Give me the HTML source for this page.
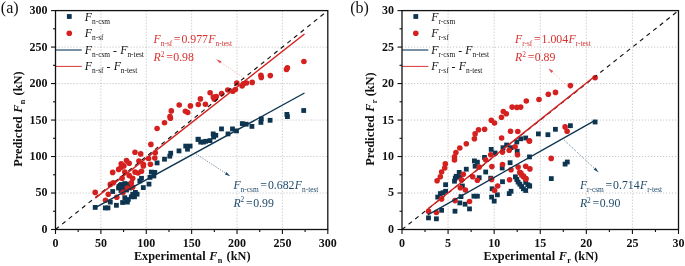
<!DOCTYPE html>
<html><head><meta charset="utf-8"><title>chart</title>
<style>
html,body{margin:0;padding:0;background:#fff;}
body{width:685px;height:266px;overflow:hidden;font-family:"Liberation Serif",serif;}
svg{display:block;will-change:transform;font-family:"Liberation Serif",serif;}
</style></head><body>
<svg width="685" height="266" viewBox="0 0 685 266">
<rect width="685" height="266" fill="#fff"/>
<g stroke="#a0a0a0" stroke-width="0.6" stroke-dasharray="1.2 1.8" fill="none"><line x1="100.88" y1="10.6" x2="100.88" y2="229.5"/><line x1="146.27" y1="10.6" x2="146.27" y2="229.5"/><line x1="191.65" y1="10.6" x2="191.65" y2="229.5"/><line x1="237.03" y1="10.6" x2="237.03" y2="229.5"/><line x1="282.42" y1="10.6" x2="282.42" y2="229.5"/><line x1="55.5" y1="193.02" x2="327.8" y2="193.02"/><line x1="55.5" y1="156.53" x2="327.8" y2="156.53"/><line x1="55.5" y1="120.05" x2="327.8" y2="120.05"/><line x1="55.5" y1="83.57" x2="327.8" y2="83.57"/><line x1="55.5" y1="47.08" x2="327.8" y2="47.08"/></g><g stroke="#111" stroke-width="1.1"><line x1="55.50" y1="229.5" x2="55.50" y2="234.0"/><line x1="78.19" y1="229.5" x2="78.19" y2="232.0"/><line x1="100.88" y1="229.5" x2="100.88" y2="234.0"/><line x1="123.58" y1="229.5" x2="123.58" y2="232.0"/><line x1="146.27" y1="229.5" x2="146.27" y2="234.0"/><line x1="168.96" y1="229.5" x2="168.96" y2="232.0"/><line x1="191.65" y1="229.5" x2="191.65" y2="234.0"/><line x1="214.34" y1="229.5" x2="214.34" y2="232.0"/><line x1="237.03" y1="229.5" x2="237.03" y2="234.0"/><line x1="259.73" y1="229.5" x2="259.73" y2="232.0"/><line x1="282.42" y1="229.5" x2="282.42" y2="234.0"/><line x1="305.11" y1="229.5" x2="305.11" y2="232.0"/><line x1="327.80" y1="229.5" x2="327.80" y2="234.0"/><line x1="51.0" y1="229.50" x2="55.5" y2="229.50"/><line x1="53.0" y1="211.26" x2="55.5" y2="211.26"/><line x1="51.0" y1="193.02" x2="55.5" y2="193.02"/><line x1="53.0" y1="174.78" x2="55.5" y2="174.78"/><line x1="51.0" y1="156.53" x2="55.5" y2="156.53"/><line x1="53.0" y1="138.29" x2="55.5" y2="138.29"/><line x1="51.0" y1="120.05" x2="55.5" y2="120.05"/><line x1="53.0" y1="101.81" x2="55.5" y2="101.81"/><line x1="51.0" y1="83.57" x2="55.5" y2="83.57"/><line x1="53.0" y1="65.32" x2="55.5" y2="65.32"/><line x1="51.0" y1="47.08" x2="55.5" y2="47.08"/><line x1="53.0" y1="28.84" x2="55.5" y2="28.84"/><line x1="51.0" y1="10.60" x2="55.5" y2="10.60"/></g><g font-weight="bold" font-size="12" fill="#111"><text x="55.5" y="246.5" text-anchor="middle">0</text><text x="100.9" y="246.5" text-anchor="middle">50</text><text x="146.3" y="246.5" text-anchor="middle">100</text><text x="191.7" y="246.5" text-anchor="middle">150</text><text x="237.0" y="246.5" text-anchor="middle">200</text><text x="282.4" y="246.5" text-anchor="middle">250</text><text x="327.8" y="246.5" text-anchor="middle">300</text><text x="47.5" y="232.9" text-anchor="end">0</text><text x="47.5" y="196.4" text-anchor="end">50</text><text x="47.5" y="159.9" text-anchor="end">100</text><text x="47.5" y="123.5" text-anchor="end">150</text><text x="47.5" y="87.0" text-anchor="end">200</text><text x="47.5" y="50.5" text-anchor="end">250</text><text x="47.5" y="14.0" text-anchor="end">300</text></g><text x="192.2" y="260.2" text-anchor="middle" font-weight="bold" font-size="12.3" fill="#111">Experimental <tspan font-style="italic" dx="0.6">F</tspan><tspan font-size="8.2" dy="2.8" dx="0.3">n</tspan><tspan dy="-2.8" dx="1.2"> (kN)</tspan></text><text transform="translate(21.9,119.1) rotate(-90)" text-anchor="middle" font-weight="bold" font-size="12.3" fill="#111">Predicted <tspan font-style="italic" dx="0.6">F</tspan><tspan font-size="8.2" dy="2.8" dx="0.3">n</tspan><tspan dy="-2.8" dx="1.2"> (kN)</tspan></text><text x="0.8" y="12.6" font-size="16" fill="#111">(a)</text><g fill="#0e3550"><rect x="116.6" y="184.1" width="4.8" height="4.8"/><rect x="119.1" y="182.1" width="4.8" height="4.8"/><rect x="120.6" y="186.1" width="4.8" height="4.8"/><rect x="123.6" y="183.6" width="4.8" height="4.8"/><rect x="125.6" y="181.8" width="4.8" height="4.8"/><rect x="124.1" y="187.6" width="4.8" height="4.8"/><rect x="118.6" y="188.1" width="4.8" height="4.8"/><rect x="127.1" y="185.6" width="4.8" height="4.8"/><rect x="92.8" y="205.0" width="4.8" height="4.8"/><rect x="102.9" y="205.5" width="4.8" height="4.8"/><rect x="105.6" y="205.5" width="4.8" height="4.8"/><rect x="107.9" y="199.7" width="4.8" height="4.8"/><rect x="110.3" y="189.1" width="4.8" height="4.8"/><rect x="114.0" y="202.9" width="4.8" height="4.8"/><rect x="116.2" y="185.6" width="4.8" height="4.8"/><rect x="117.9" y="182.9" width="4.8" height="4.8"/><rect x="120.2" y="200.1" width="4.8" height="4.8"/><rect x="122.4" y="181.2" width="4.8" height="4.8"/><rect x="122.4" y="195.3" width="4.8" height="4.8"/><rect x="125.0" y="199.7" width="4.8" height="4.8"/><rect x="125.9" y="197.1" width="4.8" height="4.8"/><rect x="128.9" y="194.4" width="4.8" height="4.8"/><rect x="130.3" y="191.8" width="4.8" height="4.8"/><rect x="133.0" y="190.0" width="4.8" height="4.8"/><rect x="134.7" y="191.8" width="4.8" height="4.8"/><rect x="132.1" y="194.4" width="4.8" height="4.8"/><rect x="137.4" y="178.5" width="4.8" height="4.8"/><rect x="139.1" y="175.9" width="4.8" height="4.8"/><rect x="140.9" y="185.2" width="4.8" height="4.8"/><rect x="146.6" y="181.7" width="4.8" height="4.8"/><rect x="147.6" y="175.0" width="4.8" height="4.8"/><rect x="148.9" y="169.7" width="4.8" height="4.8"/><rect x="152.4" y="170.0" width="4.8" height="4.8"/><rect x="151.5" y="173.6" width="4.8" height="4.8"/><rect x="154.7" y="160.5" width="4.8" height="4.8"/><rect x="162.1" y="156.8" width="4.8" height="4.8"/><rect x="167.4" y="153.8" width="4.8" height="4.8"/><rect x="168.3" y="150.8" width="4.8" height="4.8"/><rect x="176.6" y="148.5" width="4.8" height="4.8"/><rect x="183.3" y="143.7" width="4.8" height="4.8"/><rect x="187.7" y="143.7" width="4.8" height="4.8"/><rect x="185.1" y="146.8" width="4.8" height="4.8"/><rect x="195.7" y="137.0" width="4.8" height="4.8"/><rect x="198.3" y="139.7" width="4.8" height="4.8"/><rect x="201.0" y="139.7" width="4.8" height="4.8"/><rect x="301.3" y="108.1" width="4.8" height="4.8"/><rect x="284.5" y="112.0" width="4.8" height="4.8"/><rect x="285.0" y="114.2" width="4.8" height="4.8"/><rect x="267.7" y="117.9" width="4.8" height="4.8"/><rect x="258.9" y="116.5" width="4.8" height="4.8"/><rect x="258.5" y="120.0" width="4.8" height="4.8"/><rect x="249.5" y="124.0" width="4.8" height="4.8"/><rect x="243.8" y="121.8" width="4.8" height="4.8"/><rect x="239.9" y="121.2" width="4.8" height="4.8"/><rect x="230.1" y="126.5" width="4.8" height="4.8"/><rect x="234.1" y="128.5" width="4.8" height="4.8"/><rect x="219.1" y="126.5" width="4.8" height="4.8"/><rect x="225.6" y="131.5" width="4.8" height="4.8"/><rect x="210.8" y="131.5" width="4.8" height="4.8"/><rect x="213.4" y="132.9" width="4.8" height="4.8"/><rect x="211.2" y="134.6" width="4.8" height="4.8"/><rect x="195.8" y="136.8" width="4.8" height="4.8"/><rect x="207.6" y="138.2" width="4.8" height="4.8"/><rect x="203.2" y="138.9" width="4.8" height="4.8"/></g><g fill="#d4201f"><circle cx="121.0" cy="167.5" r="2.8"/><circle cx="95.2" cy="192.4" r="2.8"/><circle cx="105.5" cy="200.3" r="2.8"/><circle cx="108.3" cy="194.2" r="2.8"/><circle cx="110.3" cy="184.4" r="2.8"/><circle cx="113.3" cy="182.7" r="2.8"/><circle cx="112.7" cy="172.4" r="2.8"/><circle cx="116.8" cy="197.2" r="2.8"/><circle cx="118.6" cy="169.4" r="2.8"/><circle cx="122.1" cy="178.3" r="2.8"/><circle cx="123.0" cy="192.4" r="2.8"/><circle cx="123.9" cy="165.9" r="2.8"/><circle cx="124.8" cy="172.1" r="2.8"/><circle cx="127.4" cy="188.0" r="2.8"/><circle cx="129.2" cy="175.6" r="2.8"/><circle cx="131.3" cy="182.7" r="2.8"/><circle cx="132.7" cy="178.3" r="2.8"/><circle cx="135.0" cy="172.1" r="2.8"/><circle cx="132.7" cy="187.1" r="2.8"/><circle cx="138.0" cy="173.0" r="2.8"/><circle cx="141.5" cy="171.2" r="2.8"/><circle cx="143.3" cy="165.9" r="2.8"/><circle cx="157.1" cy="128.5" r="2.8"/><circle cx="164.5" cy="122.7" r="2.8"/><circle cx="150.9" cy="144.4" r="2.8"/><circle cx="135.0" cy="152.3" r="2.8"/><circle cx="140.7" cy="153.9" r="2.8"/><circle cx="155.3" cy="152.7" r="2.8"/><circle cx="154.8" cy="158.0" r="2.8"/><circle cx="148.6" cy="158.5" r="2.8"/><circle cx="138.9" cy="161.0" r="2.8"/><circle cx="126.5" cy="160.6" r="2.8"/><circle cx="129.2" cy="163.3" r="2.8"/><circle cx="121.2" cy="163.8" r="2.8"/><circle cx="143.3" cy="164.2" r="2.8"/><circle cx="150.4" cy="164.2" r="2.8"/><circle cx="170.0" cy="116.5" r="2.8"/><circle cx="170.4" cy="118.3" r="2.8"/><circle cx="171.3" cy="110.9" r="2.8"/><circle cx="179.2" cy="105.0" r="2.8"/><circle cx="185.4" cy="111.2" r="2.8"/><circle cx="187.7" cy="112.5" r="2.8"/><circle cx="190.4" cy="105.9" r="2.8"/><circle cx="198.3" cy="104.5" r="2.8"/><circle cx="200.4" cy="98.9" r="2.8"/><circle cx="205.4" cy="104.2" r="2.8"/><circle cx="210.1" cy="92.7" r="2.8"/><circle cx="213.3" cy="97.1" r="2.8"/><circle cx="214.2" cy="98.9" r="2.8"/><circle cx="216.3" cy="96.6" r="2.8"/><circle cx="221.6" cy="93.6" r="2.8"/><circle cx="227.8" cy="90.0" r="2.8"/><circle cx="232.8" cy="91.3" r="2.8"/><circle cx="235.4" cy="89.5" r="2.8"/><circle cx="236.8" cy="83.0" r="2.8"/><circle cx="242.1" cy="86.0" r="2.8"/><circle cx="243.4" cy="83.8" r="2.8"/><circle cx="246.5" cy="83.0" r="2.8"/><circle cx="252.2" cy="82.4" r="2.8"/><circle cx="303.9" cy="61.5" r="2.8"/><circle cx="287.4" cy="67.7" r="2.8"/><circle cx="286.5" cy="69.5" r="2.8"/><circle cx="270.3" cy="75.6" r="2.8"/><circle cx="260.9" cy="75.3" r="2.8"/><circle cx="261.3" cy="77.4" r="2.8"/></g><line x1="55.5" y1="229.5" x2="327.8" y2="10.6" stroke="#111" stroke-width="1.15" stroke-dasharray="4.3 4.2"/><line x1="95.4" y1="207.6" x2="304.5" y2="93.0" stroke="#0e3550" stroke-width="1.4"/><line x1="95.4" y1="198.1" x2="304.5" y2="34.0" stroke="#d4201f" stroke-width="1.45"/><rect x="66.9" y="14.1" width="4.8" height="4.8" fill="#0e3550"/><circle cx="69.3" cy="33.2" r="2.8" fill="#d4201f"/><line x1="55.5" y1="50" x2="81.8" y2="50" stroke="#3f6480" stroke-width="1.4"/><line x1="55.5" y1="66.4" x2="81.8" y2="66.4" stroke="#d4201f" stroke-width="0.9"/><text x="84.8" y="20.5" font-size="11.8" fill="#111"><tspan font-style="italic">F</tspan><tspan font-size="7.4" dy="3">n-csm</tspan></text><text x="84.8" y="37.2" font-size="11.8" fill="#111"><tspan font-style="italic">F</tspan><tspan font-size="7.4" dy="3">n-sf</tspan></text><text x="84.8" y="54" font-size="11.8" fill="#111"><tspan font-style="italic">F</tspan><tspan font-size="7.4" dy="3">n-csm</tspan><tspan dy="-3"> - </tspan><tspan font-style="italic" dx="0.3">F</tspan><tspan font-size="7.4" dy="3">n-test</tspan></text><text x="84.8" y="70.3" font-size="11.8" fill="#111"><tspan font-style="italic">F</tspan><tspan font-size="7.4" dy="3">n-sf</tspan><tspan dy="-3"> - </tspan><tspan font-style="italic" dx="0.3">F</tspan><tspan font-size="7.4" dy="3">n-test</tspan></text><text x="153.5" y="43.3" font-size="11.8" fill="#d83030"><tspan font-style="italic">F</tspan><tspan font-size="7.4" dy="3">n-sf</tspan><tspan dy="-3" dx="1.6">=</tspan><tspan dx="1.0">0.977</tspan><tspan font-style="italic" dx="0.3">F</tspan><tspan font-size="7.4" dy="3">n-test</tspan></text><text x="153.5" y="61" font-size="11.8" fill="#d83030"><tspan font-style="italic">R</tspan><tspan font-size="7.4" dy="-4.4">2</tspan><tspan dy="4.4" dx="1.8">=</tspan><tspan dx="0.4">0.98</tspan></text><text x="233.4" y="188.8" font-size="11.8" fill="#1f4a6a"><tspan font-style="italic">F</tspan><tspan font-size="7.4" dy="3">n-csm</tspan><tspan dy="-3" dx="1.6">=</tspan><tspan dx="1.0">0.682</tspan><tspan font-style="italic" dx="0.3">F</tspan><tspan font-size="7.4" dy="3">n-test</tspan></text><text x="233.4" y="206.8" font-size="11.8" fill="#1f4a6a"><tspan font-style="italic">R</tspan><tspan font-size="7.4" dy="-4.4">2</tspan><tspan dy="4.4" dx="1.8">=</tspan><tspan dx="0.4">0.99</tspan></text><line x1="243.6" y1="77.8" x2="220.8" y2="62.4" stroke="#e05050" stroke-width="0.6" stroke-dasharray="0.9 1.3" opacity="0.75"/><polygon points="216.2,59.3 221.5,61.2 220.0,63.5" fill="#e05050"/><line x1="196.2" y1="154.1" x2="225.7" y2="173.2" stroke="#1f4a6a" stroke-width="0.8" stroke-dasharray="0.9 1.3" opacity="0.95"/><polygon points="230.3,176.2 224.9,174.4 226.4,172.0" fill="#1f4a6a"/><rect x="55.5" y="10.6" width="272.3" height="218.9" fill="none" stroke="#111" stroke-width="1.3"/><g stroke="#a0a0a0" stroke-width="0.6" stroke-dasharray="1.2 1.8" fill="none"><line x1="448.08" y1="10.6" x2="448.08" y2="229.5"/><line x1="494.17" y1="10.6" x2="494.17" y2="229.5"/><line x1="540.25" y1="10.6" x2="540.25" y2="229.5"/><line x1="586.33" y1="10.6" x2="586.33" y2="229.5"/><line x1="632.42" y1="10.6" x2="632.42" y2="229.5"/><line x1="402.0" y1="193.02" x2="678.5" y2="193.02"/><line x1="402.0" y1="156.53" x2="678.5" y2="156.53"/><line x1="402.0" y1="120.05" x2="678.5" y2="120.05"/><line x1="402.0" y1="83.57" x2="678.5" y2="83.57"/><line x1="402.0" y1="47.08" x2="678.5" y2="47.08"/></g><g stroke="#111" stroke-width="1.1"><line x1="402.00" y1="229.5" x2="402.00" y2="234.0"/><line x1="425.04" y1="229.5" x2="425.04" y2="232.0"/><line x1="448.08" y1="229.5" x2="448.08" y2="234.0"/><line x1="471.12" y1="229.5" x2="471.12" y2="232.0"/><line x1="494.17" y1="229.5" x2="494.17" y2="234.0"/><line x1="517.21" y1="229.5" x2="517.21" y2="232.0"/><line x1="540.25" y1="229.5" x2="540.25" y2="234.0"/><line x1="563.29" y1="229.5" x2="563.29" y2="232.0"/><line x1="586.33" y1="229.5" x2="586.33" y2="234.0"/><line x1="609.38" y1="229.5" x2="609.38" y2="232.0"/><line x1="632.42" y1="229.5" x2="632.42" y2="234.0"/><line x1="655.46" y1="229.5" x2="655.46" y2="232.0"/><line x1="678.50" y1="229.5" x2="678.50" y2="234.0"/><line x1="397.5" y1="229.50" x2="402.0" y2="229.50"/><line x1="399.5" y1="211.26" x2="402.0" y2="211.26"/><line x1="397.5" y1="193.02" x2="402.0" y2="193.02"/><line x1="399.5" y1="174.78" x2="402.0" y2="174.78"/><line x1="397.5" y1="156.53" x2="402.0" y2="156.53"/><line x1="399.5" y1="138.29" x2="402.0" y2="138.29"/><line x1="397.5" y1="120.05" x2="402.0" y2="120.05"/><line x1="399.5" y1="101.81" x2="402.0" y2="101.81"/><line x1="397.5" y1="83.57" x2="402.0" y2="83.57"/><line x1="399.5" y1="65.32" x2="402.0" y2="65.32"/><line x1="397.5" y1="47.08" x2="402.0" y2="47.08"/><line x1="399.5" y1="28.84" x2="402.0" y2="28.84"/><line x1="397.5" y1="10.60" x2="402.0" y2="10.60"/></g><g font-weight="bold" font-size="12" fill="#111"><text x="402.0" y="246.5" text-anchor="middle">0</text><text x="448.1" y="246.5" text-anchor="middle">5</text><text x="494.2" y="246.5" text-anchor="middle">10</text><text x="540.2" y="246.5" text-anchor="middle">15</text><text x="586.3" y="246.5" text-anchor="middle">20</text><text x="632.4" y="246.5" text-anchor="middle">25</text><text x="678.5" y="246.5" text-anchor="middle">30</text><text x="394.0" y="232.9" text-anchor="end">0</text><text x="394.0" y="196.4" text-anchor="end">5</text><text x="394.0" y="159.9" text-anchor="end">10</text><text x="394.0" y="123.5" text-anchor="end">15</text><text x="394.0" y="87.0" text-anchor="end">20</text><text x="394.0" y="50.5" text-anchor="end">25</text><text x="394.0" y="14.0" text-anchor="end">30</text></g><text x="540.8" y="260.2" text-anchor="middle" font-weight="bold" font-size="12.3" fill="#111">Experimental <tspan font-style="italic" dx="0.6">F</tspan><tspan font-size="8.2" dy="2.8" dx="0.3">r</tspan><tspan dy="-2.8" dx="0.2"> (kN)</tspan></text><text transform="translate(374.1,119.1) rotate(-90)" text-anchor="middle" font-weight="bold" font-size="12.3" fill="#111">Predicted <tspan font-style="italic" dx="0.6">F</tspan><tspan font-size="8.2" dy="2.8" dx="0.3">r</tspan><tspan dy="-2.8" dx="0.2"> (kN)</tspan></text><text x="350.2" y="12.6" font-size="16" fill="#111">(b)</text><g fill="#0e3550"><rect x="426.1" y="215.5" width="4.8" height="4.8"/><rect x="434.0" y="216.4" width="4.8" height="4.8"/><rect x="439.2" y="207.9" width="4.8" height="4.8"/><rect x="435.3" y="194.7" width="4.8" height="4.8"/><rect x="437.9" y="191.2" width="4.8" height="4.8"/><rect x="440.6" y="190.3" width="4.8" height="4.8"/><rect x="443.2" y="188.9" width="4.8" height="4.8"/><rect x="443.2" y="182.3" width="4.8" height="4.8"/><rect x="452.6" y="208.8" width="4.8" height="4.8"/><rect x="457.4" y="200.5" width="4.8" height="4.8"/><rect x="458.6" y="194.2" width="4.8" height="4.8"/><rect x="462.7" y="201.8" width="4.8" height="4.8"/><rect x="467.1" y="206.5" width="4.8" height="4.8"/><rect x="452.1" y="178.8" width="4.8" height="4.8"/><rect x="452.9" y="175.8" width="4.8" height="4.8"/><rect x="457.4" y="174.7" width="4.8" height="4.8"/><rect x="460.0" y="183.6" width="4.8" height="4.8"/><rect x="471.5" y="193.8" width="4.8" height="4.8"/><rect x="475.0" y="193.8" width="4.8" height="4.8"/><rect x="476.8" y="175.3" width="4.8" height="4.8"/><rect x="489.2" y="194.7" width="4.8" height="4.8"/><rect x="491.8" y="198.7" width="4.8" height="4.8"/><rect x="495.0" y="192.4" width="4.8" height="4.8"/><rect x="489.7" y="186.4" width="4.8" height="4.8"/><rect x="500.1" y="179.3" width="4.8" height="4.8"/><rect x="506.8" y="191.2" width="4.8" height="4.8"/><rect x="508.6" y="188.9" width="4.8" height="4.8"/><rect x="488.3" y="175.8" width="4.8" height="4.8"/><rect x="513.0" y="174.4" width="4.8" height="4.8"/><rect x="514.4" y="177.0" width="4.8" height="4.8"/><rect x="515.7" y="179.7" width="4.8" height="4.8"/><rect x="517.4" y="181.8" width="4.8" height="4.8"/><rect x="519.2" y="184.1" width="4.8" height="4.8"/><rect x="521.0" y="186.4" width="4.8" height="4.8"/><rect x="523.3" y="188.1" width="4.8" height="4.8"/><rect x="523.3" y="180.0" width="4.8" height="4.8"/><rect x="525.4" y="182.3" width="4.8" height="4.8"/><rect x="527.1" y="183.6" width="4.8" height="4.8"/><rect x="536.0" y="131.5" width="4.8" height="4.8"/><rect x="523.3" y="135.6" width="4.8" height="4.8"/><rect x="518.3" y="136.4" width="4.8" height="4.8"/><rect x="514.4" y="139.6" width="4.8" height="4.8"/><rect x="504.2" y="142.6" width="4.8" height="4.8"/><rect x="500.6" y="145.3" width="4.8" height="4.8"/><rect x="508.6" y="145.3" width="4.8" height="4.8"/><rect x="488.8" y="147.0" width="4.8" height="4.8"/><rect x="492.7" y="150.6" width="4.8" height="4.8"/><rect x="514.8" y="148.8" width="4.8" height="4.8"/><rect x="482.1" y="155.0" width="4.8" height="4.8"/><rect x="472.0" y="158.5" width="4.8" height="4.8"/><rect x="475.0" y="159.8" width="4.8" height="4.8"/><rect x="472.7" y="163.8" width="4.8" height="4.8"/><rect x="463.9" y="166.8" width="4.8" height="4.8"/><rect x="456.8" y="170.0" width="4.8" height="4.8"/><rect x="453.8" y="173.9" width="4.8" height="4.8"/><rect x="483.3" y="169.6" width="4.8" height="4.8"/><rect x="507.7" y="160.3" width="4.8" height="4.8"/><rect x="499.8" y="165.6" width="4.8" height="4.8"/><rect x="527.1" y="154.5" width="4.8" height="4.8"/><rect x="568.0" y="123.3" width="4.8" height="4.8"/><rect x="553.0" y="126.9" width="4.8" height="4.8"/><rect x="545.5" y="132.3" width="4.8" height="4.8"/><rect x="592.7" y="119.6" width="4.8" height="4.8"/><rect x="564.9" y="159.6" width="4.8" height="4.8"/><rect x="562.7" y="161.7" width="4.8" height="4.8"/><rect x="548.9" y="176.2" width="4.8" height="4.8"/><rect x="527.3" y="183.5" width="4.8" height="4.8"/></g><g fill="#d4201f"><circle cx="428.5" cy="211.2" r="2.8"/><circle cx="436.4" cy="212.5" r="2.8"/><circle cx="441.6" cy="198.9" r="2.8"/><circle cx="437.1" cy="180.7" r="2.8"/><circle cx="440.3" cy="176.8" r="2.8"/><circle cx="455.0" cy="200.6" r="2.8"/><circle cx="460.3" cy="187.7" r="2.8"/><circle cx="461.5" cy="179.9" r="2.8"/><circle cx="465.4" cy="190.0" r="2.8"/><circle cx="469.5" cy="201.5" r="2.8"/><circle cx="472.7" cy="176.8" r="2.8"/><circle cx="477.4" cy="180.3" r="2.8"/><circle cx="491.6" cy="179.4" r="2.8"/><circle cx="497.7" cy="186.0" r="2.8"/><circle cx="494.6" cy="190.5" r="2.8"/><circle cx="509.6" cy="179.8" r="2.8"/><circle cx="523.4" cy="176.8" r="2.8"/><circle cx="526.0" cy="178.9" r="2.8"/><circle cx="478.5" cy="129.8" r="2.8"/><circle cx="484.6" cy="129.2" r="2.8"/><circle cx="475.1" cy="133.9" r="2.8"/><circle cx="474.4" cy="138.8" r="2.8"/><circle cx="466.3" cy="143.8" r="2.8"/><circle cx="459.8" cy="148.0" r="2.8"/><circle cx="455.9" cy="152.6" r="2.8"/><circle cx="454.5" cy="156.9" r="2.8"/><circle cx="454.5" cy="160.0" r="2.8"/><circle cx="445.3" cy="163.9" r="2.8"/><circle cx="444.7" cy="168.0" r="2.8"/><circle cx="441.6" cy="172.0" r="2.8"/><circle cx="501.6" cy="138.0" r="2.8"/><circle cx="510.5" cy="131.2" r="2.8"/><circle cx="517.8" cy="131.5" r="2.8"/><circle cx="529.5" cy="141.0" r="2.8"/><circle cx="515.1" cy="146.8" r="2.8"/><circle cx="509.2" cy="150.3" r="2.8"/><circle cx="502.5" cy="152.1" r="2.8"/><circle cx="490.7" cy="154.7" r="2.8"/><circle cx="517.5" cy="154.7" r="2.8"/><circle cx="485.7" cy="159.7" r="2.8"/><circle cx="479.2" cy="167.1" r="2.8"/><circle cx="491.9" cy="166.6" r="2.8"/><circle cx="502.5" cy="164.5" r="2.8"/><circle cx="518.1" cy="167.1" r="2.8"/><circle cx="525.7" cy="166.2" r="2.8"/><circle cx="529.9" cy="168.9" r="2.8"/><circle cx="511.0" cy="169.8" r="2.8"/><circle cx="519.8" cy="172.4" r="2.8"/><circle cx="463.3" cy="174.2" r="2.8"/><circle cx="521.6" cy="175.0" r="2.8"/><circle cx="570.4" cy="85.6" r="2.8"/><circle cx="555.5" cy="92.4" r="2.8"/><circle cx="548.3" cy="94.3" r="2.8"/><circle cx="539.0" cy="99.5" r="2.8"/><circle cx="526.3" cy="101.0" r="2.8"/><circle cx="520.7" cy="107.1" r="2.8"/><circle cx="516.9" cy="107.4" r="2.8"/><circle cx="512.1" cy="107.1" r="2.8"/><circle cx="503.3" cy="111.5" r="2.8"/><circle cx="506.3" cy="113.8" r="2.8"/><circle cx="501.5" cy="117.3" r="2.8"/><circle cx="491.3" cy="120.3" r="2.8"/><circle cx="494.5" cy="123.0" r="2.8"/><circle cx="565.1" cy="126.9" r="2.8"/><circle cx="567.1" cy="131.3" r="2.8"/><circle cx="595.1" cy="77.7" r="2.8"/><circle cx="529.2" cy="140.9" r="2.8"/><circle cx="551.2" cy="158.4" r="2.8"/><circle cx="520.9" cy="173.0" r="2.8"/><circle cx="523.5" cy="176.1" r="2.8"/><circle cx="525.7" cy="178.6" r="2.8"/></g><line x1="402.0" y1="229.5" x2="678.5" y2="10.6" stroke="#111" stroke-width="1.15" stroke-dasharray="4.3 4.13"/><line x1="427.8" y1="214.9" x2="595.5" y2="120.1" stroke="#0e3550" stroke-width="1.4"/><line x1="427.8" y1="209.0" x2="595.5" y2="75.7" stroke="#d4201f" stroke-width="1.45"/><rect x="413.4" y="14.1" width="4.8" height="4.8" fill="#0e3550"/><circle cx="415.8" cy="33.2" r="2.8" fill="#d4201f"/><line x1="402.0" y1="50" x2="428.3" y2="50" stroke="#3f6480" stroke-width="1.4"/><line x1="402.0" y1="66.4" x2="428.3" y2="66.4" stroke="#d4201f" stroke-width="0.9"/><text x="431.3" y="20.5" font-size="11.8" fill="#111"><tspan font-style="italic">F</tspan><tspan font-size="7.4" dy="3">r-csm</tspan></text><text x="431.3" y="37.2" font-size="11.8" fill="#111"><tspan font-style="italic">F</tspan><tspan font-size="7.4" dy="3">r-sf</tspan></text><text x="431.3" y="54" font-size="11.8" fill="#111"><tspan font-style="italic">F</tspan><tspan font-size="7.4" dy="3">r-csm</tspan><tspan dy="-3"> - </tspan><tspan font-style="italic" dx="0.3">F</tspan><tspan font-size="7.4" dy="3">n-test</tspan></text><text x="431.3" y="70.3" font-size="11.8" fill="#111"><tspan font-style="italic">F</tspan><tspan font-size="7.4" dy="3">r-sf</tspan><tspan dy="-3"> - </tspan><tspan font-style="italic" dx="0.3">F</tspan><tspan font-size="7.4" dy="3">n-test</tspan></text><text x="515" y="43" font-size="11.8" fill="#d83030"><tspan font-style="italic">F</tspan><tspan font-size="7.4" dy="3">r-sf</tspan><tspan dy="-3" dx="1.6">=</tspan><tspan dx="1.0">1.004</tspan><tspan font-style="italic" dx="0.3">F</tspan><tspan font-size="7.4" dy="3">r-test</tspan></text><text x="515" y="61" font-size="11.8" fill="#d83030"><tspan font-style="italic">R</tspan><tspan font-size="7.4" dy="-4.4">2</tspan><tspan dy="4.4" dx="1.8">=</tspan><tspan dx="0.4">0.89</tspan></text><text x="579.9" y="188.9" font-size="11.8" fill="#1f4a6a"><tspan font-style="italic">F</tspan><tspan font-size="7.4" dy="3">r-csm</tspan><tspan dy="-3" dx="1.6">=</tspan><tspan dx="1.0">0.714</tspan><tspan font-style="italic" dx="0.3">F</tspan><tspan font-size="7.4" dy="3">r-test</tspan></text><text x="579.9" y="207" font-size="11.8" fill="#1f4a6a"><tspan font-style="italic">R</tspan><tspan font-size="7.4" dy="-4.4">2</tspan><tspan dy="4.4" dx="1.8">=</tspan><tspan dx="0.4">0.90</tspan></text><line x1="571.2" y1="89.7" x2="552.3" y2="72.0" stroke="#e05050" stroke-width="0.6" stroke-dasharray="0.9 1.3" opacity="0.75"/><polygon points="548.3,68.2 553.3,70.9 551.4,73.0" fill="#e05050"/><line x1="564.2" y1="140" x2="594.6" y2="168.6" stroke="#1f4a6a" stroke-width="0.8" stroke-dasharray="0.9 1.3" opacity="0.95"/><polygon points="598.6,172.4 593.6,169.6 595.6,167.6" fill="#1f4a6a"/><rect x="402.0" y="10.6" width="276.5" height="218.9" fill="none" stroke="#111" stroke-width="1.3"/>
</svg>
</body></html>
